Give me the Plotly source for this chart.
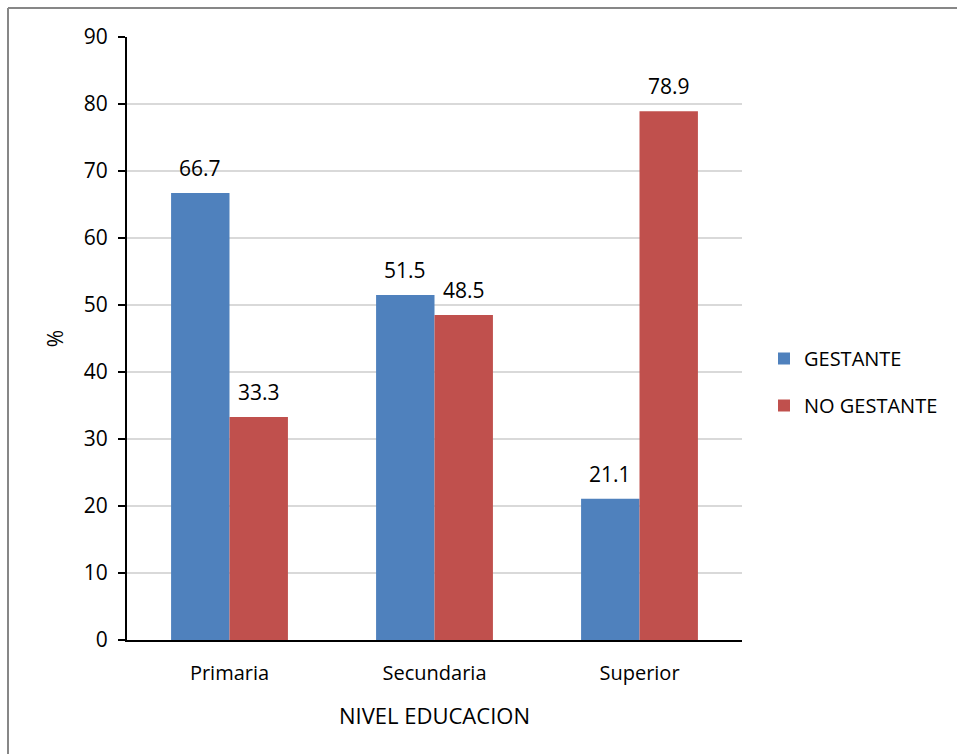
import plotly.graph_objects as go

# Education level categories and percentages per group
niveles = ["Primaria", "Secundaria", "Superior"]
gestante = [66.7, 51.5, 21.1]
no_gestante = [33.3, 48.5, 78.9]
y_ticks = [0, 10, 20, 30, 40, 50, 60, 70, 80, 90]

FONT = "Open Sans"
W, H = 957, 754
L, R, T, B = 127, 215, 37, 114
pw, ph = W - L - R, H - T - B
BAR_GAP = 0.43
# half of one bar's width in pixels (two bars share each category slot)
half_bar_px = pw / len(niveles) * (1 - BAR_GAP) / 4

fig = go.Figure()
fig.add_trace(go.Bar(
    x=niveles, y=gestante, name="GESTANTE", legendgroup="g",
    marker=dict(color="#4f81bd", line=dict(width=0)),
))
fig.add_trace(go.Bar(
    x=niveles, y=no_gestante, name="NO GESTANTE", legendgroup="n",
    marker=dict(color="#c0504d", line=dict(width=0)),
))

# Value labels above each bar
for vals, sign in ((gestante, -1), (no_gestante, 1)):
    for cat, v in zip(niveles, vals):
        fig.add_annotation(
            x=cat, y=v, text=f"{v:.1f}", showarrow=False,
            xanchor="center", yanchor="bottom",
            xshift=sign * half_bar_px, yshift=9,
            font=dict(size=21, family=FONT, color="#000000"),
        )

# Outer frame (top and left edges visible)
bx = (8 - L) / pw
by = 1 + (T - 8) / ph
fig.add_shape(type="line", xref="paper", yref="paper", x0=bx, x1=1.6, y0=by, y1=by,
              line=dict(color="#878787", width=2))
fig.add_shape(type="line", xref="paper", yref="paper", x0=bx, x1=bx, y0=by, y1=-0.5,
              line=dict(color="#878787", width=2))

fig.update_layout(
    width=W, height=H,
    margin=dict(l=L, r=R, t=T, b=B, autoexpand=False),
    paper_bgcolor="white", plot_bgcolor="white",
    barmode="group", bargap=BAR_GAP, bargroupgap=0,
    font=dict(family=FONT, size=20, color="#000000"),
    showlegend=True,
    legend=dict(x=(764 - L) / pw, y=(H - B - 382) / ph, xanchor="left", yanchor="middle",
                font=dict(size=20, family=FONT), tracegroupgap=18,
                traceorder="grouped", itemwidth=30, bgcolor="rgba(0,0,0,0)"),
)
fig.update_xaxes(
    showline=True, linecolor="#000000", linewidth=2, ticks="",
    tickfont=dict(size=20), ticklabelstandoff=14,
    title=dict(text="NIVEL EDUCACION", font=dict(size=22), standoff=24),
)
fig.update_yaxes(
    range=[0, 90], tickvals=y_ticks, showline=True, linecolor="#000000", linewidth=2,
    ticks="outside", ticklen=7, tickcolor="#000000", tickwidth=2,
    showgrid=True, gridcolor="#d9d9d9", gridwidth=1.5, zeroline=False,
    tickfont=dict(size=21), ticklabelstandoff=6,
    title=dict(text="%", font=dict(size=21), standoff=14),
)

fig.write_html("out.html")
